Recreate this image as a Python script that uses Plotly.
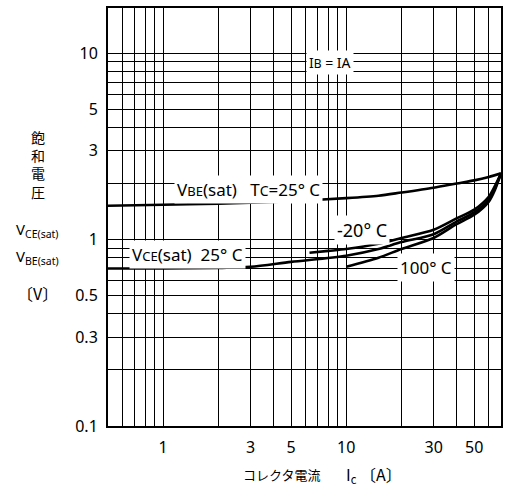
import plotly.graph_objects as go

# ---- data ----
ic_vbe25 = [0.5, 1, 2, 3, 5, 10, 15, 20, 30, 40, 50, 60, 70]
vbe_25 = [1.52, 1.54, 1.56, 1.58, 1.61, 1.67, 1.72, 1.79, 1.90, 2.00, 2.08, 2.17, 2.27]

ic_vce25 = [0.5, 1, 2, 3, 5, 10, 15, 20, 30, 40, 50, 60, 65, 70]
vce_25 = [0.70, 0.70, 0.705, 0.715, 0.76, 0.82, 0.89, 0.97, 1.07, 1.25, 1.40, 1.64, 1.90, 2.27]

ic_vce_m20 = [6.3, 8, 10, 15, 20, 30, 40, 50, 60, 65, 70]
vce_m20 = [0.85, 0.87, 0.89, 0.95, 1.02, 1.13, 1.30, 1.45, 1.70, 1.95, 2.27]

ic_vce100 = [10, 15, 20, 30, 40, 50, 60, 65, 70]
vce_100 = [0.715, 0.80, 0.89, 1.02, 1.21, 1.36, 1.60, 1.86, 2.27]

x_tickvals = [1, 3, 5, 10, 30, 50]
x_ticktext = ["1", "3", "5", "10", "30", "50"]
x_gridvals = [0.5, 0.6, 0.7, 0.8, 0.9, 1, 2, 3, 4, 5, 6, 7, 8, 9, 10, 20, 30, 40, 50, 60, 70]
y_tickvals = [0.1, 0.3, 0.5, 1, 3, 5, 10]
y_ticktext = ["0.1", "0.3", "0.5", "1", "3", "5", "10"]
y_gridvals = [0.1, 0.2, 0.3, 0.4, 0.5, 0.6, 0.7, 0.8, 0.9, 1, 2, 3, 4, 5, 6, 7, 8, 9, 10]

LAT = "Noto Sans, DejaVu Sans, sans-serif"
JP = "Noto Sans CJK JP"

fig = go.Figure()
line = dict(color="black", width=2.6, shape="spline", smoothing=0.8)
for xs, ys, nm in [(ic_vbe25, vbe_25, "VBE 25"), (ic_vce25, vce_25, "VCE 25"),
                   (ic_vce_m20, vce_m20, "VCE -20"), (ic_vce100, vce_100, "VCE 100")]:
    fig.add_trace(go.Scatter(x=xs, y=ys, mode="lines", line=line, name=nm,
                             showlegend=False, hoverinfo="skip"))

grid = dict(showgrid=True, gridcolor="black", gridwidth=1.3, ticks="")
fig.update_xaxes(
    type="log", range=[-0.301, 1.845],
    tickmode="array", tickvals=x_tickvals, ticktext=x_ticktext,
    showgrid=True, gridcolor="black", gridwidth=1.3,
    minor=dict(tickmode="array", tickvals=x_gridvals, **grid),
    showline=True, linecolor="black", linewidth=2, mirror=True,
    ticks="", ticklabelstandoff=6, zeroline=False,
    tickfont=dict(family=LAT, size=16, color="black"),
)
fig.update_yaxes(
    type="log", range=[-1, 1.243],
    tickmode="array", tickvals=y_tickvals, ticktext=y_ticktext,
    showgrid=True, gridcolor="black", gridwidth=1.3,
    minor=dict(tickmode="array", tickvals=y_gridvals, **grid),
    showline=True, linecolor="black", linewidth=2, mirror=True,
    ticks="", ticklabelstandoff=5, zeroline=False,
    tickfont=dict(family=LAT, size=16, color="black"),
)

def label(text, x, y, size=16):
    fig.add_annotation(x=x, y=y, xref="x", yref="y", text=text, showarrow=False,
                       bgcolor="white", borderpad=2,
                       font=dict(family=LAT, size=size, color="black"))

label("V<span style='font-size:13px'>BE</span>(sat)   T<span style='font-size:14px'>C</span>=25° C", 0.467, 0.267, 17)
label("I<span style='font-size:12px'>B</span> = IA", 0.910, 0.953, 14)
label("-20° C", 1.084, 0.052, 18)
label("V<span style='font-size:13px'>CE</span>(sat)  25° C", 0.134, -0.082, 17)
label("100° C", 1.437, -0.152, 17)

def ptext(text, x, y, size=14, fam=LAT, xanchor="center"):
    fig.add_annotation(x=x, y=y, xref="paper", yref="paper", text=text, showarrow=False,
                       xanchor=xanchor, yanchor="middle",
                       font=dict(family=fam, size=size, color="black"))

ptext("飽<br>和<br>電<br>圧", -0.177, 0.626, 14, JP)
ptext("V<sub>CE(sat)</sub>", -0.18, 0.469, 15)
ptext("V<sub>BE(sat)</sub>", -0.18, 0.404, 15)
ptext("〔V〕", -0.18, 0.318, 16, JP)
ptext("コレクタ電流", 0.441, -0.117, 13, JP)
ptext("I<sub>c</sub> 〔A〕", 0.600, -0.117, 16, JP, xanchor="left")

fig.update_layout(
    width=508, height=487,
    margin=dict(l=108, r=5, t=8, b=61),
    paper_bgcolor="white", plot_bgcolor="white",
    showlegend=False,
)
fig.write_html("out.html", config={"displayModeBar": False},
               post_script="document.body.style.margin='0px';")
